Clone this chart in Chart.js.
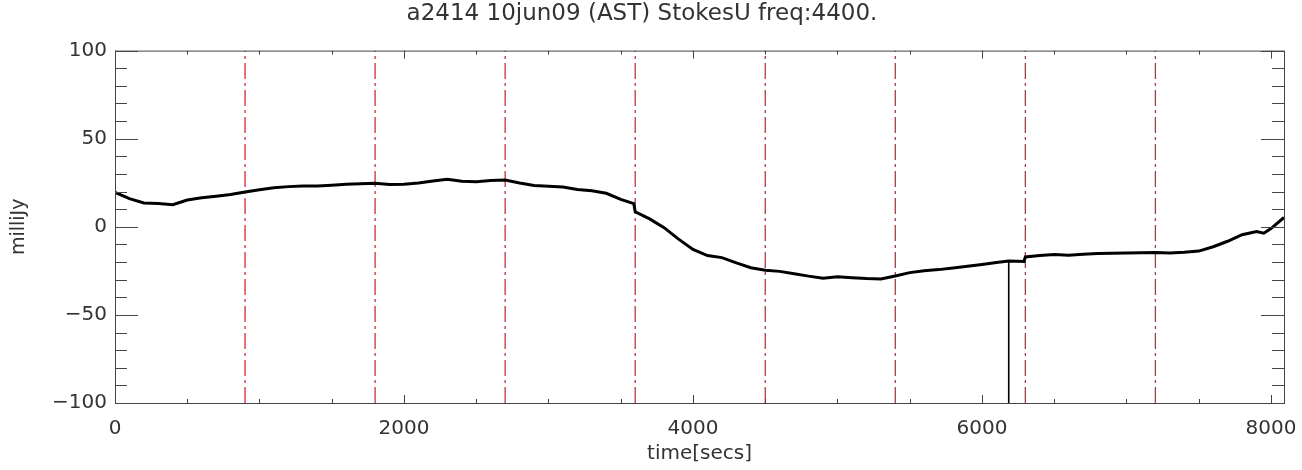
<!DOCTYPE html>
<html>
<head>
<meta charset="utf-8">
<title>a2414 10jun09 StokesU</title>
<script src="https://cdn.jsdelivr.net/npm/chart.js@4/dist/chart.umd.min.js"></script>
<style>
  html, body { margin: 0; padding: 0; background: #fff; }
  #wrap { width: 1302px; height: 470px; }
</style>
</head>
<body>
<div id="wrap"><canvas id="chart" width="1302" height="470"></canvas></div>
<script>
// StokesU trace (secs, milliJy)
const times = [
  0, 100, 200, 300, 400, 500, 600, 700, 800, 900,
  1000, 1100, 1200, 1300, 1400, 1500, 1600, 1700, 1800, 1900,
  2000, 2100, 2200, 2300, 2400, 2500, 2600, 2700, 2800, 2900,
  3000, 3100, 3200, 3300, 3400, 3500, 3590, 3600, 3700, 3800,
  3900, 4000, 4100, 4200, 4300, 4400, 4500, 4600, 4700, 4800,
  4900, 5000, 5100, 5200, 5300, 5400, 5500, 5600, 5700, 5800,
  5900, 6000, 6100, 6185, 6290, 6300, 6400, 6500,
  6600, 6700, 6800, 6900, 7000, 7100, 7200, 7300, 7400, 7500,
  7600, 7700, 7800, 7900, 7950, 8000, 8090
];
const fluxMjy = [
  19.5, 16.0, 13.5, 13.2, 12.5, 15.2, 16.5, 17.4, 18.3, 19.8,
  21.0, 22.2, 22.8, 23.2, 23.2, 23.6, 24.1, 24.4, 24.7, 24.0,
  24.1, 24.8, 26.0, 27.0, 25.8, 25.6, 26.3, 26.5, 24.9, 23.5,
  23.0, 22.6, 21.2, 20.4, 19.0, 15.6, 13.2, 8.5, 4.5, -0.5,
  -7.0, -12.8, -16.3, -17.5, -20.5, -23.2, -24.6, -25.3, -26.6, -28.0,
  -29.2, -28.4, -28.9, -29.4, -29.6, -27.9, -26.0, -24.9, -24.3, -23.4,
  -22.4, -21.4, -20.3, -19.4, -19.7, -17.1, -16.3, -15.7,
  -16.2, -15.6, -15.2, -15.0, -14.9, -14.7, -14.6, -14.8, -14.5, -13.8,
  -11.3, -8.2, -4.5, -2.7, -3.6, -1.0, 5.3
];

// single bad sample dropping to the bottom of the plot
const spikeTime = 6185;
const spikeFrom = -19.4;
const spikeTo = -100;

// red dash-dot markers
const markerTimes = [0, 900, 1800, 2700, 3600, 4500, 5400, 6300, 7200];

// axis ticks
const xTickVals = [0, 2000, 4000, 6000, 8000];
const yTickVals = [-100, -50, 0, 50, 100];
const xMinorStep = 500;
const yMinorStep = 10;
const xMax = 8090;

const FONT = "'DejaVu Sans', sans-serif";
const TEXT = "#333";
const FRAME = "#444";

const traceData = times.map((t, i) => ({ x: t, y: fluxMjy[i] }));

const markerSets = markerTimes.map((t) => ({
  data: [{ x: t, y: -100 }, { x: t, y: 100 }],
  borderColor: "#e0262c",
  borderWidth: 1.3,
  borderDash: [16, 4, 3, 4],
  pointRadius: 0,
  order: 2,
}));

// IDL style inward ticks on all four sides + frame
const idlTicks = {
  id: "idlTicks",
  afterDatasetsDraw(chart) {
    const { ctx, chartArea: a, scales } = chart;
    const xs = scales.x, ys = scales.y;
    ctx.save();
    ctx.strokeStyle = FRAME;
    ctx.lineWidth = 1;
    ctx.strokeRect(a.left + 0.5, a.top + 0.5, a.right - a.left, a.bottom - a.top);
    ctx.beginPath();
    for (let v = 0; v <= xMax; v += xMinorStep) {
      const px = Math.round(xs.getPixelForValue(v)) + 0.5;
      const len = v % 2000 === 0 ? 8 : 4;
      ctx.moveTo(px, a.bottom); ctx.lineTo(px, a.bottom - len);
      ctx.moveTo(px, a.top); ctx.lineTo(px, a.top + len);
    }
    for (let v = -100; v <= 100; v += yMinorStep) {
      const py = Math.round(ys.getPixelForValue(v)) + 0.5;
      const len = v % 50 === 0 ? 23 : 12;
      ctx.moveTo(a.left, py); ctx.lineTo(a.left + len, py);
      ctx.moveTo(a.right, py); ctx.lineTo(a.right - len, py);
    }
    ctx.stroke();
    ctx.restore();
  },
};

new Chart(document.getElementById("chart"), {
  type: "line",
  data: {
    datasets: [
      {
        label: "StokesU",
        data: traceData,
        borderColor: "#000",
        borderWidth: 3,
        pointRadius: 0,
        tension: 0,
        order: 1,
      },
      {
        label: "spike",
        data: [{ x: spikeTime, y: spikeFrom }, { x: spikeTime, y: spikeTo }],
        borderColor: "#000",
        borderWidth: 1.6,
        pointRadius: 0,
        order: 1,
      },
      ...markerSets,
    ],
  },
  options: {
    responsive: false,
    animation: false,
    layout: { padding: { left: 0, right: 18, top: 0, bottom: 0 } },
    plugins: {
      legend: { display: false },
      tooltip: { enabled: false },
      title: {
        display: true,
        text: "a2414 10jun09 (AST) StokesU freq:4400.",
        color: TEXT,
        font: { family: FONT, size: 23, weight: "normal" },
        padding: { top: 0, bottom: 23 },
      },
    },
    scales: {
      x: {
        type: "linear",
        min: 0,
        max: xMax,
        grid: { display: false, drawTicks: false },
        border: { display: false },
        afterBuildTicks: (s) => { s.ticks = xTickVals.map((v) => ({ value: v })); },
        afterFit: (s) => { s.height = 67; s.paddingLeft = 0; s.paddingRight = 0; },
        ticks: {
          color: TEXT,
          padding: 14,
          maxRotation: 0,
          font: { family: FONT, size: 20 },
          callback: (v) => String(v),
        },
        title: {
          display: true,
          text: "time[secs]",
          color: TEXT,
          font: { family: FONT, size: 20 },
          padding: { top: 0, bottom: 4 },
        },
      },
      y: {
        type: "linear",
        min: -100,
        max: 100,
        grid: { display: false, drawTicks: false },
        border: { display: false },
        afterBuildTicks: (s) => { s.ticks = yTickVals.map((v) => ({ value: v })); },
        afterFit: (s) => { s.width = 115; },
        ticks: {
          color: TEXT,
          padding: 8,
          font: { family: FONT, size: 20 },
          callback: (v) => (v < 0 ? "\u2212" + Math.abs(v) : String(v)),
        },
        title: {
          display: true,
          text: "milliJy",
          color: TEXT,
          font: { family: FONT, size: 19 },
          padding: { top: 8, bottom: 0 },
        },
      },
    },
  },
  plugins: [idlTicks],
});
</script>
</body>
</html>
